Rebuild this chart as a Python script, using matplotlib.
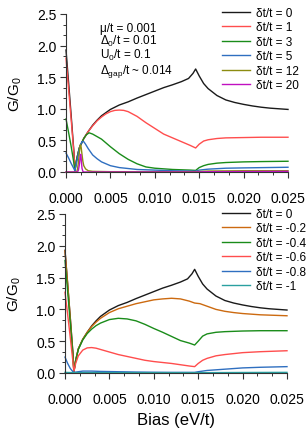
import matplotlib
matplotlib.use("Agg")
import matplotlib.pyplot as plt
from matplotlib.ticker import MultipleLocator

plt.rcParams['font.family'] = ['Liberation Sans', 'DejaVu Sans']
plt.rcParams['mathtext.fontset'] = 'custom'
plt.rcParams['mathtext.rm'] = 'Liberation Sans'
plt.rcParams['mathtext.it'] = 'Liberation Sans'

# ---------------- top panel data ----------------
top_labels = ["δt/t = 0", "δt/t = 1", "δt/t = 3", "δt/t = 5", "δt/t = 12", "δt/t = 20"]
top_colors = ["#1a1a1a", "#ff4d4d", "#1a8c1a", "#2f6fc0", "#8c8c10", "#c010c0"]

x_d0 = [0, 0.0003, 0.0006, 0.0009, 0.001, 0.0012, 0.0015, 0.002, 0.0025, 0.003, 0.0035,
        0.004, 0.005, 0.006, 0.007, 0.008, 0.009, 0.010, 0.011, 0.012, 0.013, 0.0138,
        0.0143, 0.0146, 0.0150, 0.0155, 0.016, 0.017, 0.018, 0.019, 0.020, 0.021, 0.022,
        0.023, 0.024, 0.025]
y_d0 = [1.93, 1.40, 0.86, 0.30, 0.02, 0.20, 0.38, 0.53, 0.64, 0.74, 0.82,
        0.89, 0.99, 1.06, 1.11, 1.17, 1.225, 1.28, 1.335, 1.38, 1.43, 1.48,
        1.56, 1.63, 1.52, 1.40, 1.32, 1.21, 1.14, 1.10, 1.07, 1.045, 1.025,
        1.01, 1.0, 0.99]

x_d1 = [0, 0.0003, 0.0006, 0.0009, 0.001, 0.0012, 0.0015, 0.002, 0.0025, 0.003, 0.0035,
        0.004, 0.0045, 0.005, 0.0055, 0.006, 0.0065, 0.007, 0.008, 0.009, 0.010, 0.011,
        0.012, 0.013, 0.014, 0.0146, 0.0150, 0.0155, 0.016, 0.017, 0.018, 0.020, 0.022, 0.025]
y_d1 = [1.80, 1.30, 0.80, 0.28, 0.02, 0.20, 0.38, 0.53, 0.64, 0.73, 0.81,
        0.87, 0.92, 0.955, 0.975, 0.98, 0.975, 0.955, 0.88, 0.78, 0.69, 0.60,
        0.54, 0.48, 0.42, 0.38, 0.44, 0.49, 0.51, 0.53, 0.54, 0.545, 0.55, 0.55]

x_d3 = [0, 0.0003, 0.0006, 0.0009, 0.001, 0.0012, 0.0015, 0.002, 0.0023, 0.0026, 0.003,
        0.0035, 0.004, 0.005, 0.006, 0.007, 0.008, 0.009, 0.010, 0.012, 0.014, 0.0146,
        0.0150, 0.0155, 0.016, 0.017, 0.018, 0.020, 0.022, 0.025]
y_d3 = [0.84, 0.62, 0.39, 0.13, 0.02, 0.20, 0.38, 0.53, 0.59, 0.62, 0.60,
        0.56, 0.52, 0.40, 0.29, 0.20, 0.13, 0.08, 0.06, 0.04, 0.03, 0.025,
        0.07, 0.10, 0.12, 0.14, 0.15, 0.16, 0.165, 0.17]

x_d5 = [0, 0.0003, 0.0006, 0.0009, 0.001, 0.0012, 0.0014, 0.0016, 0.0018, 0.002, 0.0022,
        0.0025, 0.003, 0.0035, 0.004, 0.005, 0.006, 0.008, 0.010, 0.012, 0.014, 0.0146,
        0.015, 0.016, 0.018, 0.020, 0.025]
y_d5 = [0.30, 0.22, 0.13, 0.05, 0.02, 0.15, 0.30, 0.42, 0.48, 0.48, 0.44,
        0.37, 0.27, 0.21, 0.16, 0.10, 0.07, 0.04, 0.03, 0.02, 0.015, 0.015,
        0.03, 0.045, 0.06, 0.065, 0.075]

x_d12 = [0, 0.0012, 0.0013, 0.0014, 0.0015, 0.0016, 0.0017, 0.0018, 0.0019, 0.002,
         0.0022, 0.0025, 0.003, 0.005, 0.010, 0.0146, 0.016, 0.020, 0.025]
y_d12 = [0.0, 0.0, 0.05, 0.15, 0.30, 0.43, 0.40, 0.28, 0.17, 0.10,
         0.05, 0.02, 0.01, 0.005, 0.005, 0.005, 0.015, 0.02, 0.02]

x_d20 = [0, 0.0013, 0.0014, 0.0015, 0.0016, 0.00165, 0.0017, 0.0018, 0.0019, 0.002,
         0.0146, 0.016, 0.025]
y_d20 = [0, 0, 0.03, 0.11, 0.24, 0.28, 0.23, 0.06, 0.01, 0,
         0, 0.005, 0.01]

top_x = [x_d0, x_d1, x_d3, x_d5, x_d12, x_d20]
top_y = [y_d0, y_d1, y_d3, y_d5, y_d12, y_d20]

# ---------------- bottom panel data ----------------
bot_labels = ["δt/t = 0", "δt/t = -0.2", "δt/t = -0.4", "δt/t = -0.6", "δt/t = -0.8", "δt/t = -1"]
bot_colors = ["#1a1a1a", "#cc6a10", "#1a8c1a", "#ff4d4d", "#2f6fc0", "#2aa0a0"]

x_m02 = [0, 0.0003, 0.0006, 0.0009, 0.0010, 0.0012, 0.0015, 0.002, 0.0025, 0.003, 0.0035,
         0.004, 0.005, 0.006, 0.007, 0.008, 0.009, 0.010, 0.011, 0.012, 0.013, 0.014,
         0.0146, 0.0152, 0.016, 0.017, 0.018, 0.019, 0.020, 0.022, 0.025]
y_m02 = [1.92, 1.40, 0.85, 0.28, 0.02, 0.20, 0.38, 0.53, 0.64, 0.73, 0.80,
         0.86, 0.95, 1.01, 1.05, 1.09, 1.12, 1.15, 1.165, 1.175, 1.165, 1.13,
         1.10, 1.09, 1.05, 1.00, 0.97, 0.95, 0.935, 0.915, 0.90]

x_m04 = [0, 0.0003, 0.0006, 0.0009, 0.0010, 0.0012, 0.0015, 0.002, 0.0025, 0.003, 0.0035,
         0.004, 0.005, 0.006, 0.007, 0.008, 0.009, 0.010, 0.011, 0.012, 0.013, 0.014,
         0.0146, 0.015, 0.0155, 0.016, 0.017, 0.018, 0.020, 0.022, 0.025]
y_m04 = [1.77, 1.28, 0.78, 0.25, 0.02, 0.19, 0.37, 0.52, 0.62, 0.69, 0.745,
         0.785, 0.84, 0.86, 0.85, 0.82, 0.765, 0.70, 0.64, 0.575, 0.51, 0.47,
         0.44, 0.50, 0.58, 0.615, 0.64, 0.65, 0.66, 0.665, 0.665]

x_m06 = [0, 0.0003, 0.0006, 0.0009, 0.0010, 0.0012, 0.0015, 0.002, 0.0025, 0.003, 0.0035,
         0.004, 0.005, 0.006, 0.007, 0.008, 0.009, 0.010, 0.012, 0.014, 0.0146, 0.015,
         0.0155, 0.016, 0.017, 0.018, 0.020, 0.022, 0.025]
y_m06 = [1.27, 0.92, 0.55, 0.17, 0.02, 0.15, 0.27, 0.36, 0.395, 0.40, 0.39,
         0.37, 0.33, 0.29, 0.26, 0.23, 0.20, 0.18, 0.15, 0.11, 0.10, 0.15,
         0.20, 0.23, 0.27, 0.29, 0.32, 0.335, 0.35]

x_m08 = [0, 0.0003, 0.0006, 0.0009, 0.001, 0.0015, 0.002, 0.003, 0.004, 0.006, 0.008,
         0.010, 0.012, 0.014, 0.0146, 0.015, 0.016, 0.018, 0.020, 0.022, 0.025]
y_m08 = [0.25, 0.15, 0.07, 0.02, 0.01, 0.02, 0.03, 0.03, 0.025, 0.02, 0.015,
         0.012, 0.01, 0.01, 0.01, 0.02, 0.04, 0.06, 0.08, 0.09, 0.10]

x_m10 = [0, 0.001, 0.005, 0.010, 0.015, 0.020, 0.025]
y_m10 = [0.01, 0.005, 0.005, 0.005, 0.005, 0.008, 0.01]

bot_x = [x_d0, x_m02, x_m04, x_m06, x_m08, x_m10]
bot_y = [y_d0, y_m02, y_m04, y_m06, y_m08, y_m10]

xticks = [0.000, 0.005, 0.010, 0.015, 0.020, 0.025]
xticklabels = ["0.000", "0.005", "0.010", "0.015", "0.020", "0.025"]
yticks = [0.0, 0.5, 1.0, 1.5, 2.0, 2.5]
yticklabels = ["0.0", "0.5", "1.0", "1.5", "2.0", "2.5"]

annot = ["μ/t = 0.001", "Δ$_0$/t = 0.01", "U$_0$/t = 0.1", "Δ$_{gap}$/t ~ 0.014"]

W, H = 308, 435
fig = plt.figure(figsize=(W / 100, H / 100), dpi=100)
ax1 = fig.add_axes([66 / W, 1 - 173 / H, 222 / W, 158 / H])
ax2 = fig.add_axes([65 / W, 1 - 374 / H, 222 / W, 159 / H])


def style(ax):
    ax.set_xlim(0, 0.025)
    ax.set_ylim(0, 2.5)
    for s in ("top", "right"):
        ax.spines[s].set_visible(False)
    for s in ("left", "bottom"):
        ax.spines[s].set_linewidth(0.8)
        ax.spines[s].set_color("#333333")
    ax.set_xticks(xticks)
    ax.set_xticklabels(xticklabels)
    ax.set_yticks(yticks)
    ax.set_yticklabels(yticklabels)
    ax.xaxis.set_minor_locator(MultipleLocator(0.005 / 3))
    ax.yaxis.set_minor_locator(MultipleLocator(0.5 / 3))
    ax.tick_params(which="major", length=4, width=0.8, labelsize=10, direction="out",
                   color="#333333")
    ax.tick_params(axis="x", which="major", pad=10)
    ax.tick_params(axis="y", which="major", pad=3)
    ax.tick_params(which="minor", length=2.2, width=0.7, direction="out", color="#333333")
    ax.set_ylabel("G/G$_0$", fontsize=11)
    ax.yaxis.set_label_coords(-0.23, 0.5)
    ax.yaxis.label.set_va("center")


style(ax1)
style(ax2)

for xs, ys, c, lab in zip(top_x, top_y, top_colors, top_labels):
    ax1.plot(xs, ys, color=c, lw=1.0, label=lab, clip_on=False)
for xs, ys, c, lab in zip(bot_x, bot_y, bot_colors, bot_labels):
    ax2.plot(xs, ys, color=c, lw=1.0, label=lab, clip_on=False)

ypos = [0.912, 0.830, 0.741, 0.640]
for t, yp in zip(annot, ypos):
    ax1.text(0.153, yp, t, transform=ax1.transAxes, fontsize=8.5, va="center", ha="left")

leg_kw = dict(frameon=False, fontsize=8.5, handlelength=2.4, handletextpad=0.5,
              labelspacing=0.21, borderpad=0, borderaxespad=0, loc="upper left")
ax1.legend(bbox_to_anchor=(222 / W, 1 - 8 / H), bbox_transform=fig.transFigure, **leg_kw)
ax2.legend(bbox_to_anchor=(222 / W, 1 - 209 / H), bbox_transform=fig.transFigure, **leg_kw)

ax2.set_xlabel("Bias (eV/t)", fontsize=12)
ax2.xaxis.set_label_coords(0.5, -0.29)
ax2.xaxis.label.set_va("center")

fig.savefig("out.png", dpi=100)
